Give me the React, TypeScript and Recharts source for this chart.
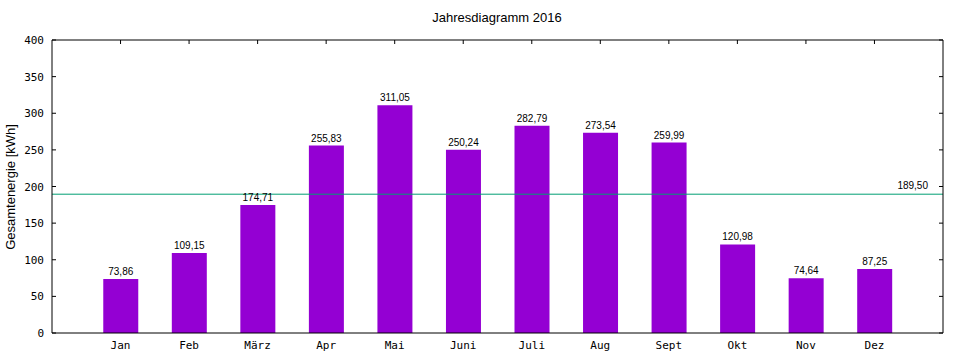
import { ComposedChart, Bar, Line, XAxis, YAxis, ReferenceLine, LabelList } from 'recharts';

const months = ['Jan', 'Feb', 'März', 'Apr', 'Mai', 'Juni', 'Juli', 'Aug', 'Sept', 'Okt', 'Nov', 'Dez'];
const energy = [73.86, 109.15, 174.71, 255.83, 311.05, 250.24, 282.79, 273.54, 259.99, 120.98, 74.64, 87.25];
const average = 189.5;
const yTicks = [0, 50, 100, 150, 200, 250, 300, 350, 400];
const monthTicks = months.map((_, i) => i + 1);

const data = months.map((m, i) => ({ x: i + 1, month: m, energy: energy[i] }));

const fmt = (v: number) => v.toFixed(2).replace('.', ',');
const axisFont = '"DejaVu Sans Mono", monospace';
const labelFont = '"Liberation Sans", Arial, sans-serif';

const LeftTick = (props: any) => {
    const { x, y, payload } = props;
    return (
        <g>
            <line x1={x + 6} x2={x + 10} y1={y} y2={y} stroke="#000" />
            <text x={x - 2} y={y} dy={4} textAnchor="end" fontSize={11} fontFamily={axisFont} fill="#000">
                {payload.value}
            </text>
        </g>
    );
};

const RightTick = (props: any) => {
    const { x, y } = props;
    return <line x1={x} x2={x - 4} y1={y} y2={y} stroke="#000" />;
};

const TopTick = (props: any) => {
    const { x, y } = props;
    return <line x1={x} x2={x} y1={y} y2={y + 4} stroke="#000" />;
};

const BottomTick = (props: any) => {
    const { x, y, payload } = props;
    return (
        <text x={x} y={y} dy={12} textAnchor="middle" fontSize={11} fontFamily={axisFont} fill="#000">
            {months[payload.value - 1]}
        </text>
    );
};

// label for the average line, sits a bit left of the right border
const AvgLabel = (props: any) => {
    const { viewBox } = props;
    const right = viewBox.x + viewBox.width;
    return (
        <text x={right - 15} y={viewBox.y - 5} textAnchor="end" fontSize={10} fontFamily={labelFont} fill="#000">
            {fmt(average)}
        </text>
    );
};

export default function App() {
    return (
        <div style={{ position: 'absolute', left: 0, top: 0, width: 960, height: 360, background: '#fff' }}>
            <svg width={960} height={360} style={{ position: 'absolute', left: 0, top: 0 }}>
                <text x={497} y={22} textAnchor="middle" fontSize={13} fontFamily={labelFont} fill="#000">
                    Jahresdiagramm 2016
                </text>
                <text
                    x={15}
                    y={187}
                    transform="rotate(-90 15 187)"
                    textAnchor="middle"
                    fontSize={13}
                    fontFamily={labelFont}
                    fill="#000"
                >
                    Gesamtenergie [kWh]
                </text>
            </svg>
            <ComposedChart
                width={960}
                height={360}
                data={data}
                margin={{ top: 39, right: 16, left: 0, bottom: 7 }}
                style={{ position: 'absolute', left: 0, top: 0 }}
            >
                <XAxis
                    dataKey="x"
                    type="number"
                    domain={[0, 13]}
                    ticks={monthTicks}
                    height={20}
                    axisLine={{ stroke: '#000' }}
                    tickLine={false}
                    tick={<BottomTick />}
                    tickSize={0}
                    tickMargin={4}
                    interval={0}
                />
                <XAxis
                    xAxisId="top"
                    orientation="top"
                    dataKey="x"
                    type="number"
                    domain={[0, 13]}
                    ticks={monthTicks}
                    height={1}
                    axisLine={{ stroke: '#000' }}
                    tickLine={false}
                    tickSize={0}
                    tickMargin={0}
                    tick={<TopTick />}
                    interval={0}
                />
                <YAxis
                    domain={[0, 400]}
                    ticks={yTicks}
                    width={52}
                    axisLine={{ stroke: '#000' }}
                    tickLine={false}
                    tickSize={0}
                    tickMargin={6}
                    tick={<LeftTick />}
                    interval={0}
                />
                <YAxis
                    yAxisId="right"
                    orientation="right"
                    domain={[0, 400]}
                    ticks={yTicks}
                    width={1}
                    axisLine={{ stroke: '#000' }}
                    tickLine={false}
                    tickSize={0}
                    tickMargin={0}
                    tick={<RightTick />}
                    interval={0}
                />
                <Bar dataKey="energy" fill="#9400d3" barSize={35} isAnimationActive={false}>
                    <LabelList
                        dataKey="energy"
                        position="top"
                        offset={4}
                        formatter={(v: any) => fmt(Number(v))}
                        style={{ fontSize: 10, fontFamily: labelFont, fill: '#000' }}
                    />
                </Bar>
                <Line
                    xAxisId="top"
                    yAxisId="right"
                    dataKey="energy"
                    stroke="none"
                    dot={false}
                    activeDot={false}
                    legendType="none"
                    isAnimationActive={false}
                />
                <ReferenceLine y={average} stroke="#009e73" strokeWidth={1} label={<AvgLabel />} />
            </ComposedChart>
        </div>
    );
}
